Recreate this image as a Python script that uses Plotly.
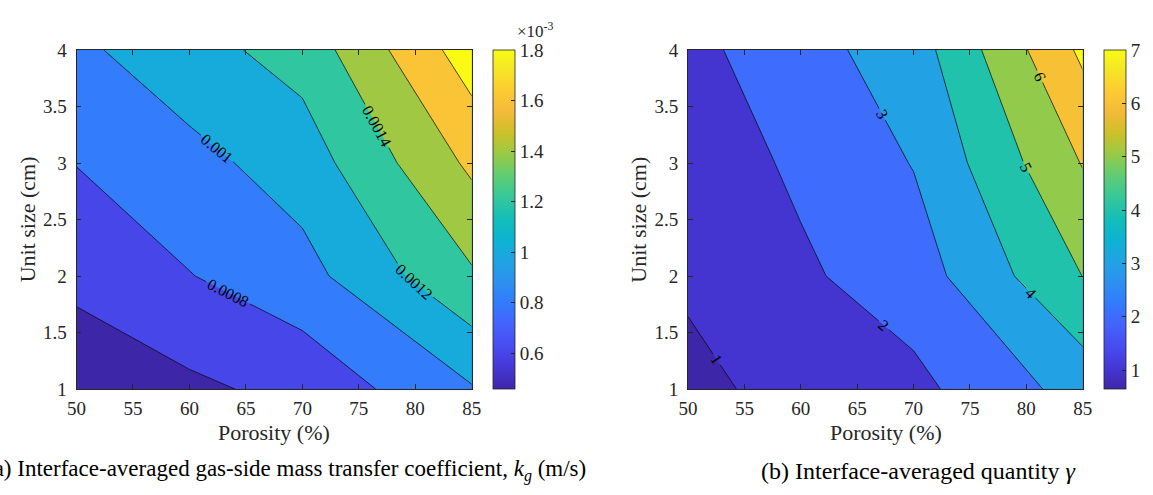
import plotly.graph_objects as go

# ---------------- data ----------------
porosity = [50, 60, 70, 85]          # %
unit_size = [1, 2, 3, 4]             # cm

# (a) gas-side mass transfer coefficient k_g (m/s); rows = unit size, cols = porosity
kg = [
    [0.000457, 0.000559, 0.000660, 0.000983],
    [0.000653, 0.000793, 0.000930, 0.001374],
    [0.000805, 0.000937, 0.001095, 0.001640],
    [0.000959, 0.001129, 0.001278, 0.001910],
]
kg_levels = [0.0006, 0.0008, 0.0010, 0.0012, 0.0014, 0.0016, 0.0018]
kg_ticks = [0.0006, 0.0008, 0.0010, 0.0012, 0.0014, 0.0016, 0.0018]
kg_ticktext = ["0.6", "0.8", "1", "1.2", "1.4", "1.6", "1.8"]

# (b) quantity gamma
gamma = [
    [0.64, 1.477, 1.736, 3.39],
    [1.20, 1.852, 2.510, 5.01],
    [1.45, 2.164, 3.040, 6.05],
    [1.71, 2.630, 3.520, 7.20],
]
gamma_levels = [1, 2, 3, 4, 5, 6, 7]
gamma_ticks = [1, 2, 3, 4, 5, 6, 7]

# ---------------- parula colormap ----------------
PARULA = [
    (0, (0.2422, 0.1504, 0.6603)), (16, (0.2704, 0.2138, 0.8346)),
    (32, (0.2813, 0.2985, 0.9397)), (48, (0.2710, 0.3860, 0.9898)),
    (64, (0.2006, 0.4803, 0.9906)), (80, (0.1716, 0.5655, 0.9393)),
    (96, (0.1288, 0.6408, 0.8910)), (112, (0.0433, 0.7039, 0.8242)),
    (128, (0.0770, 0.7468, 0.7224)), (144, (0.2061, 0.7808, 0.6065)),
    (160, (0.3671, 0.8021, 0.4563)), (176, (0.5886, 0.7913, 0.2833)),
    (192, (0.7945, 0.7554, 0.1570)), (208, (0.9523, 0.7284, 0.2237)),
    (224, (0.9938, 0.7974, 0.1974)), (240, (0.9601, 0.8963, 0.1507)),
    (255, (0.9769, 0.9839, 0.0805)),
]


def rgb(c):
    return "rgb(%d,%d,%d)" % tuple(round(v * 255) for v in c)


def parula(p):
    p = min(max(p, 0.0), 1.0) * 255
    for (i0, c0), (i1, c1) in zip(PARULA[:-1], PARULA[1:]):
        if p <= i1:
            t = (p - i0) / (i1 - i0)
            return tuple(a + (b - a) * t for a, b in zip(c0, c1))
    return PARULA[-1][1]


parula_scale = [[i / 255, rgb(c)] for i, c in PARULA]


def band_scale(z, levels):
    """MATLAB-style band colours: lowest band -> data min, others -> lower level value."""
    zmin = min(min(r) for r in z)
    cmin, cmax = zmin, levels[-1]
    vals = [zmin] + list(levels)
    n = len(levels)
    return [[k / n, rgb(parula((v - cmin) / (cmax - cmin)))] for k, v in enumerate(vals)], cmin, cmax


FONT = "Liberation Serif"
TXT = "#262626"

fig = go.Figure()


def add_panel(z, levels, xa, ya, labelformat, cbx, tickvals, ticktext):
    cs, cmin, cmax = band_scale(z, levels)
    step = levels[1] - levels[0]
    fig.add_trace(go.Contour(
        x=porosity, y=unit_size, z=z,
        colorscale=cs, showscale=False, autocontour=False,
        contours=dict(start=levels[0], end=levels[-1], size=step,
                      coloring="fill", showlines=True, showlabels=True,
                      labelformat=labelformat,
                      labelfont=dict(family=FONT, size=16, color="black")),
        line=dict(color="black", width=0.7, smoothing=0),
        xaxis=xa, yaxis=ya, hoverinfo="skip",
    ))
    fig.add_trace(go.Scatter(
        x=[None], y=[None], mode="markers", xaxis=xa, yaxis=ya,
        showlegend=False, hoverinfo="skip",
        marker=dict(color=[cmin], colorscale=parula_scale, cmin=cmin, cmax=cmax,
                    showscale=True,
                    colorbar=dict(x=cbx, xanchor="left", xpad=0, y=0.2, yanchor="bottom",
                                  ypad=0, len=0.7158, lenmode="fraction",
                                  thickness=21.6, thicknessmode="pixels",
                                  outlinewidth=0.8, outlinecolor=TXT,
                                  ticks="inside", ticklen=4, tickcolor=TXT,
                                  tickvals=tickvals, ticktext=ticktext,
                                  tickfont=dict(family=FONT, size=19, color=TXT))),
    ))


add_panel(kg, kg_levels, "x", "y", ".4~f", 0.4265, kg_ticks, kg_ticktext)
add_panel(gamma, gamma_levels, "x2", "y2", ".0f", 0.9656, gamma_ticks,
          [str(v) for v in gamma_ticks])

axis_common = dict(showline=True, mirror="ticks", linecolor=TXT, linewidth=0.8,
                   ticks="inside", ticklen=5, tickcolor=TXT, tickwidth=0.8,
                   showgrid=False, zeroline=False,
                   tickfont=dict(family=FONT, size=19, color=TXT))

fig.update_layout(
    width=1153, height=495, margin=dict(l=0, r=0, t=0, b=0),
    paper_bgcolor="white", plot_bgcolor="white", showlegend=False,
    font=dict(family=FONT),
    xaxis=dict(domain=[0.0587, 0.4076], range=[50, 85], dtick=5, anchor="y",
               ticklabelstandoff=2, **axis_common),
    yaxis=dict(domain=[0.2, 0.9158], range=[1, 4], dtick=0.5, anchor="x",
               ticklabelstandoff=5, **axis_common),
    xaxis2=dict(domain=[0.5984, 0.9468], range=[50, 85], dtick=5, anchor="y2",
                ticklabelstandoff=2, **axis_common),
    yaxis2=dict(domain=[0.2, 0.9158], range=[1, 4], dtick=0.5, anchor="x2",
                ticklabelstandoff=5, **axis_common),
)

ann = []
tfont = dict(family=FONT, size=22, color=TXT)
for xc, ylab_x in [(0.2333, 0.0156), (0.7728, 0.5551)]:
    ann.append(dict(text="Porosity (%)", x=xc, y=(495 - 441) / 495, xref="paper",
                    yref="paper", xanchor="center", yanchor="middle", showarrow=False,
                    font=tfont))
    ann.append(dict(text="Unit size (cm)", x=ylab_x, y=0.5576, xref="paper", yref="paper",
                    xanchor="center", yanchor="middle", textangle=-90, showarrow=False,
                    font=tfont))
ann.append(dict(text="×10<sup>-3</sup>", x=514 / 1153, y=(495 - 34) / 495,
                xref="paper", yref="paper", xanchor="left", yanchor="bottom",
                showarrow=False, font=dict(family=FONT, size=17, color=TXT)))
ann.append(dict(text="(a) Interface-averaged gas-side mass transfer coefficient, "
                     "<i>k</i><sub><i>g</i></sub> (m/s)",
                x=281 / 1153, y=0.0283, xref="paper", yref="paper",
                xanchor="center", yanchor="middle", showarrow=False,
                font=dict(family=FONT, size=23, color="black")))
ann.append(dict(text="(b) Interface-averaged quantity <i>γ</i>",
                x=762 / 1153, y=0.0283, xref="paper", yref="paper",
                xanchor="left", yanchor="middle", showarrow=False,
                font=dict(family=FONT, size=24, color="black")))
fig.update_layout(annotations=ann)

fig.write_html("out.html")
